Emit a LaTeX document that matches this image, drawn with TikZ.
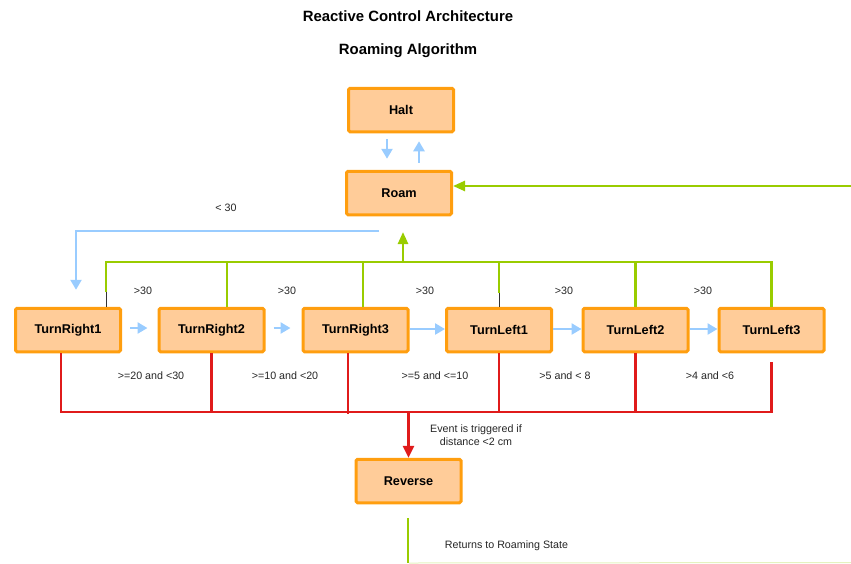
\documentclass[tikz,border=0pt]{standalone}
\usepackage{fontspec}
\setmainfont{Liberation Sans}
\usetikzlibrary{arrows.meta}
\definecolor{boxfill}{HTML}{FFCC99}
\definecolor{boxdraw}{HTML}{FF9E0F}
\definecolor{lblue}{HTML}{99CCFF}
\definecolor{lgreen}{HTML}{99CC00}
\definecolor{lred}{HTML}{E01B1B}
\begin{document}
\begin{tikzpicture}[x=1pt,y=-1pt,
 state/.style={draw=boxdraw, fill=boxfill, line width=3pt, rounded corners=1.5pt,
   minimum width=105pt, minimum height=43.5pt, inner sep=0pt,
   font=\fontsize{12.7}{14}\selectfont\bfseries},
 ttl/.style={font=\fontsize{14.9}{17}\selectfont\bfseries, inner sep=0pt},
 lbl/.style={font=\fontsize{10.7}{13}\selectfont, text=black!85, inner sep=0pt, align=center},
 bl/.style={draw=lblue, line width=2.5pt},
 gr/.style={draw=lgreen, line width=2.5pt},
 rd/.style={draw=lred, line width=2.5pt},
 btip/.style={-{Triangle[length=10pt,width=11pt]}},
 gtip/.style={-{Triangle[length=12pt,width=10pt]}},
 rtip/.style={-{Triangle[length=12pt,width=11pt]}}
]
\useasboundingbox (0,0) rectangle (851,563);

% titles
\node[ttl] (t1) at (408,16) {Reactive Control Architecture};
\node[ttl] (t2) at (408,51) {Roaming Algorithm};

% states
\node[state] (halt) at (401,110) {Halt};
\node[state] (roam) at (399,193) {Roam};
\node[state] (tr1) at (68,330) {TurnRight1};
\node[state] (tr2) at (211.5,330) {TurnRight2};
\node[state] (tr3) at (355.5,330) {TurnRight3};
\node[state] (tl1) at (499,330) {TurnLeft1};
\node[state] (tl2) at (635.5,330) {TurnLeft2};
\node[state] (tl3) at (771.5,330) {TurnLeft3};
\node[state] (rev) at (408.5,481) {Reverse};

% Halt <-> Roam
\draw[bl,btip] ([xshift=-14pt,yshift=-6pt]halt.south) -- ([xshift=-12pt,yshift=11pt]roam.north);
\draw[bl,btip] ([xshift=20pt,yshift=7pt]roam.north) -- ([xshift=18pt,yshift=-8pt]halt.south);

% green input to Roam
\coordinate (gin) at (851,186);
\draw[gr,gtip] (gin) -- (gin -| roam.east);

% blue < 30 line
\coordinate (bstart) at (379,231);
\draw[bl,btip] (bstart) -| ([xshift=8pt,yshift=17pt]tr1.north);
\node[lbl] (l30) at (226,208) {< 30};

% green bus
\coordinate (busL) at (106,262);
\coordinate (busR) at (771.5,262);
\coordinate (gk1) at (106,292);
\coordinate (gk2) at (499,293);
\draw[gr] (gk1) -- (busL) -- (busR) -- (tl3.north);
\draw[black!80, line width=0.8pt] (gk1) -- ([xshift=38pt]tr1.north);
\draw[gr] ([xshift=15.5pt]tr2.north) -- ++(0,-46.25);
\draw[gr] ([xshift=7.5pt]tr3.north) -- ++(0,-46.25);
\draw[gr] (gk2) -- (gk2 |- busL);
\draw[black!80, line width=0.8pt] (gk2) -- (tl1.north);
\draw[gr] (tl2.north) -- (tl2.north |- busL);
\coordinate (roamin) at (403,232);
\coordinate (bustap) at (403,262);
\draw[gr,gtip] (bustap) -- (roamin);

% >30 labels
\node[lbl] (g1) at (143,291) {>30};
\node[lbl] (g2) at (287,291) {>30};
\node[lbl] (g3) at (425,291) {>30};
\node[lbl] (g4) at (564,291) {>30};
\node[lbl] (g5) at (703,291) {>30};

% blue transitions
\draw[bl,btip] ([xshift=8pt,yshift=2pt]tr1.east) -- ([xshift=-10pt,yshift=2pt]tr2.west);
\draw[bl,btip] ([xshift=8pt,yshift=2pt]tr2.east) -- ([xshift=-11pt,yshift=2pt]tr3.west);
\draw[bl,btip] ([yshift=1pt]tr3.east) -- ([yshift=1pt]tl1.west);
\draw[bl,btip] ([yshift=1pt]tl1.east) -- ([yshift=1pt]tl2.west);
\draw[bl,btip] ([yshift=1pt]tl2.east) -- ([yshift=1pt]tl3.west);

% red bus
\coordinate (rbusL) at (61,412);
\coordinate (rbusR) at (771.5,412);
\coordinate (rk) at (771.5,362);
\draw[rd] ([xshift=-7pt]tr1.south) -- (rbusL) -- (rbusR) -- (rk);
\draw[rd] (tr2.south) -- (tr2.south |- rbusL);
\draw[rd] ([xshift=-7.5pt]tr3.south) -- ++(0,60.25);
\draw[rd] (tl1.south) -- (tl1.south |- rbusL);
\draw[rd] (tl2.south) -- (tl2.south |- rbusL);
\draw[rd,rtip] (rev.north |- rbusL) -- (rev.north);

% range labels
\node[lbl] (r1) at (151,376) {>=20 and <30};
\node[lbl] (r2) at (285,376) {>=10 and <20};
\node[lbl] (r3) at (435,376) {>=5 and <=10};
\node[lbl] (r4) at (565,376) {>5 and < 8};
\node[lbl] (r5) at (710,376) {>4 and <6};

\node[lbl] (ev) at (476,435.5) {Event is triggered if\\distance <2 cm};

% return line
\coordinate (ret1) at (408,518);
\coordinate (ret2) at (408,563);
\coordinate (ret3) at (851,562.5);
\draw[gr] (ret1) -- (ret2);
\draw[lgreen!25, line width=1pt] ([xshift=1pt]ret2) -- (ret3);
\node[lbl] (ret) at (506.5,546) {Returns to Roaming State};
\end{tikzpicture}
\end{document}
